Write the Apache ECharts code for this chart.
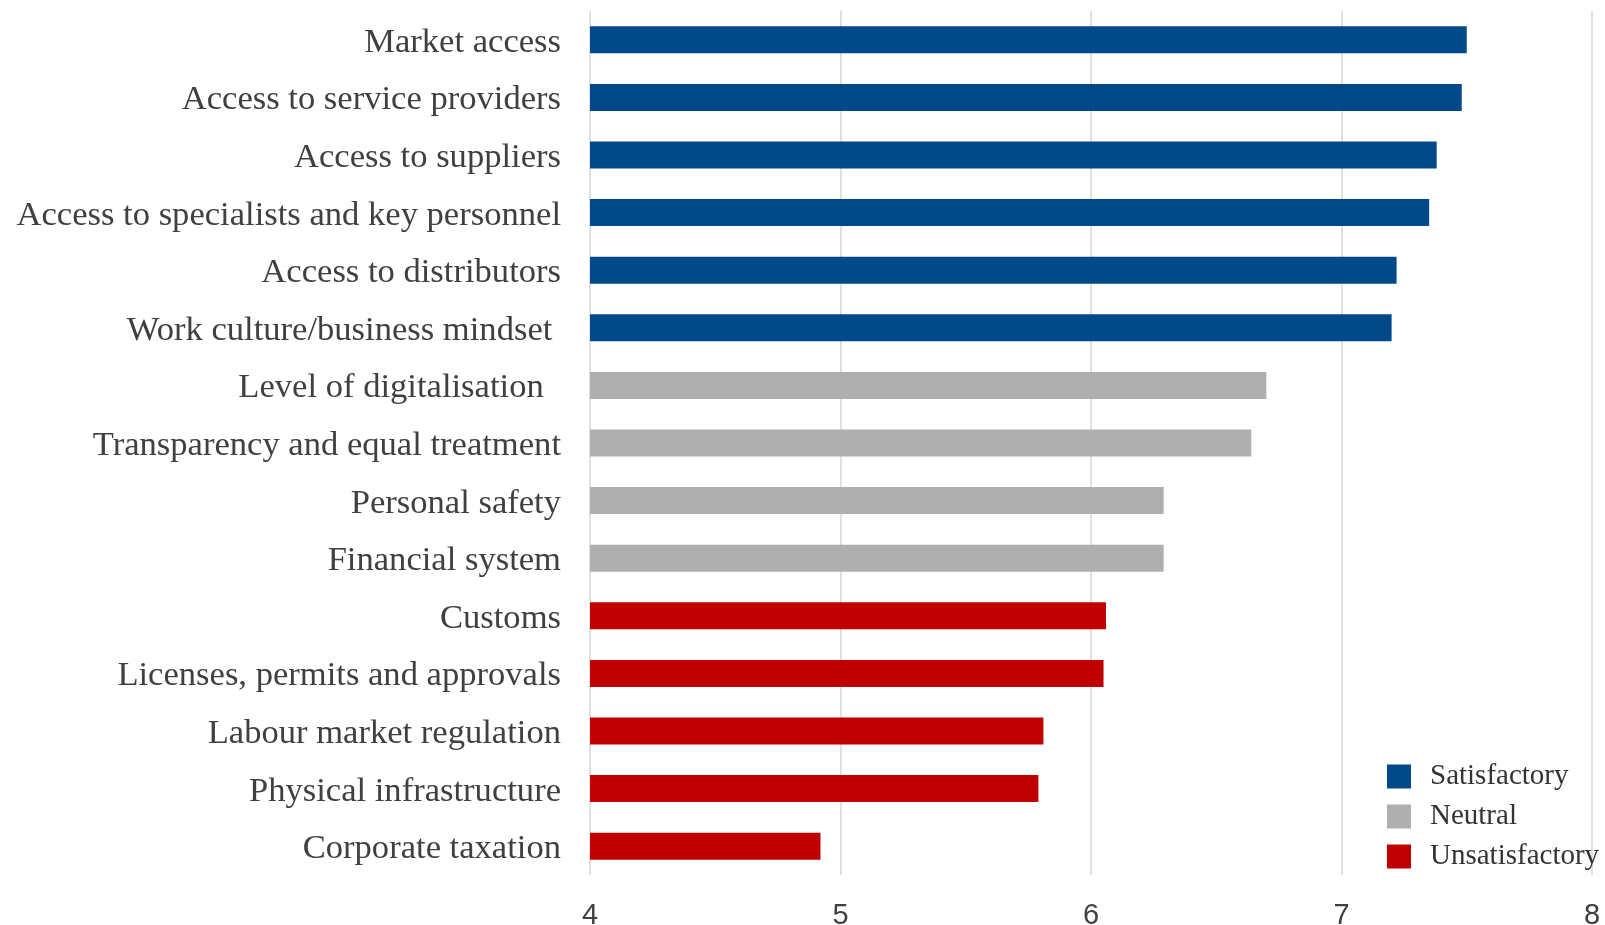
<!DOCTYPE html>
<html>
<head>
<meta charset="utf-8">
<script src="https://cdn.jsdelivr.net/npm/echarts@6/dist/echarts.min.js"></script>
<style>
  html, body { margin: 0; padding: 0; background: #fff; }
  #chart { width: 1605px; height: 925px; }
</style>
</head>
<body>
<div id="chart"></div>
<script>
// Business environment factors, ordered from best to worst rated
const categories = [
  'Market access',
  'Access to service providers',
  'Access to suppliers',
  'Access to specialists and key personnel',
  'Access to distributors',
  'Work culture/business mindset ',
  'Level of digitalisation  ',
  'Transparency and equal treatment',
  'Personal safety',
  'Financial system',
  'Customs',
  'Licenses, permits and approvals',
  'Labour market regulation',
  'Physical infrastructure',
  'Corporate taxation'
];
const scores = [7.50, 7.48, 7.38, 7.35, 7.22, 7.20, 6.70, 6.64, 6.29, 6.29, 6.06, 6.05, 5.81, 5.79, 4.92];
const ratings = ['Satisfactory', 'Satisfactory', 'Satisfactory', 'Satisfactory', 'Satisfactory', 'Satisfactory',
  'Neutral', 'Neutral', 'Neutral', 'Neutral',
  'Unsatisfactory', 'Unsatisfactory', 'Unsatisfactory', 'Unsatisfactory', 'Unsatisfactory'];
const groups = ['Satisfactory', 'Neutral', 'Unsatisfactory'];
const groupColors = ['#02498A', '#AFAFAF', '#C00000'];
const xTicks = [4, 5, 6, 7, 8];

const serif = '"Liberation Serif", "DejaVu Serif", serif';
const sans = '"Liberation Sans", Arial, sans-serif';

// One series per rating group; bars overlap in the same slot so each row shows one bar
const series = groups.map((g, gi) => ({
  name: g,
  type: 'bar',
  barWidth: 27,
  barGap: '-100%',
  itemStyle: { color: groupColors[gi] },
  data: scores.map((v, i) => (ratings[i] === g ? v : null))
}));

const chart = echarts.init(document.getElementById('chart'), null, { renderer: 'canvas' });
chart.setOption({
  animation: false,
  backgroundColor: '#ffffff',
  grid: { left: 590, right: 13, top: 11, bottom: 50, containLabel: false, outerBoundsMode: 'none' },
  legend: {
    orient: 'vertical',
    left: 1382,
    top: 757,
    itemWidth: 24,
    itemHeight: 24,
    itemGap: 11,
    icon: 'rect',
    data: groups,
    textStyle: { fontFamily: serif, fontSize: 29, color: '#333333', padding: [2, 0, 0, 14] }
  },
  xAxis: {
    type: 'value',
    min: xTicks[0],
    max: xTicks[xTicks.length - 1],
    interval: 1,
    axisLine: { show: false },
    axisTick: { show: false },
    splitLine: { show: true, lineStyle: { color: '#E0E0E0', width: 2 } },
    axisLabel: { fontFamily: sans, fontSize: 29, color: '#404040', margin: 26 }
  },
  yAxis: {
    type: 'category',
    inverse: true,
    data: categories,
    axisLine: { show: false },
    axisTick: { show: false },
    axisLabel: {
      interval: 0,
      fontFamily: serif,
      fontSize: 34.6,
      color: '#404040',
      margin: 29,
      verticalAlign: 'top',
      lineHeight: 6
    }
  },
  series: series
});
</script>
</body>
</html>
